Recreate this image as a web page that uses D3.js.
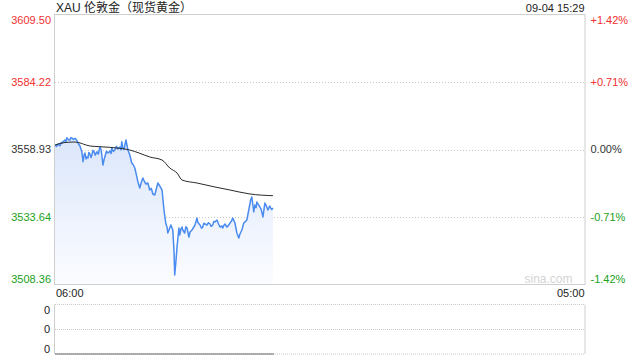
<!DOCTYPE html>
<html><head><meta charset="utf-8">
<script src="https://cdn.jsdelivr.net/npm/d3@7"></script>
<style>
html,body{margin:0;padding:0;background:#fff;}
svg{display:block;font-family:"Liberation Sans",Arial,"Noto Sans CJK SC",sans-serif;}
</style></head>
<body><svg id="c" width="640" height="360"></svg>
<script>
// ---- data ----
const title = "XAU 伦敦金（现货黄金）";
const stamp = "09-04 15:29";
const prevClose = 3558.93;
const priceTicks = [3609.50, 3584.22, 3558.93, 3533.64, 3508.36];
const pctTicks = ["+1.42%", "+0.71%", "0.00%", "-0.71%", "-1.42%"];
const timeTicks = ["06:00", "05:00"];
const volTicks = ["0", "0", "0"];
// minutes since 06:00
const priceMinutes = [0,4,8,10,13,16,18,22,26,28,31,35,39,41,44,48,52,56,60,65,70,73,76,78,81,83,86,88,91,94,96,99,102,105,109,113,117,120,122,125,128,130,134,138,143,146,148,152,156,160,164,169,172,174,177,180,182,185,188,190,195,200,204,208,212,216,221,225,229,233,237,242,247,251,255,260,264,268,273,279,284,289,292,294,299,302,307,310,312,315,318,323,325,328,331,333,338,341,344,349,352,357,361,365,370,372,375,378,382,385,388,391,396,400,404,407,411,414,417,422,426,430,435,437,440,443,448,452,456,460,463,466,469,474,479,482,487,492,496,500,505,510,513,516,518,521,524,526,530,534,537,539,542,545,547,550,552,555,558,560,562,565,568];
const prices = [3560.62,3560.10,3561.00,3560.70,3560.36,3561.60,3561.37,3562.00,3562.50,3561.90,3563.37,3562.60,3562.50,3563.40,3563.25,3562.70,3563.14,3562.60,3561.37,3560.25,3558.10,3554.34,3556.90,3557.61,3555.40,3556.11,3555.73,3557.80,3557.24,3555.90,3556.86,3558.60,3557.99,3556.80,3558.10,3557.20,3559.98,3558.90,3556.86,3553.10,3555.20,3556.22,3558.30,3557.61,3558.37,3557.40,3559.49,3558.20,3558.74,3560.10,3559.12,3559.87,3558.80,3561.86,3559.49,3558.90,3560.62,3562.50,3560.30,3558.74,3556.86,3553.85,3553.20,3551.97,3549.50,3546.82,3544.45,3546.60,3548.21,3546.90,3545.96,3546.33,3543.70,3544.30,3542.20,3541.82,3544.10,3546.33,3545.21,3543.70,3536.18,3530.92,3529.79,3527.53,3529.41,3530.54,3528.66,3521.14,3511.74,3516.63,3522.27,3529.41,3526.78,3528.90,3529.79,3528.66,3527.53,3529.90,3529.41,3526.03,3527.91,3528.66,3529.60,3530.54,3533.17,3531.67,3531.00,3530.54,3529.30,3529.79,3531.20,3530.92,3530.54,3531.40,3530.92,3530.00,3530.54,3531.90,3531.67,3532.42,3531.00,3529.79,3530.17,3529.41,3530.40,3530.92,3529.79,3530.30,3531.29,3532.00,3533.17,3532.30,3531.29,3527.53,3525.65,3527.16,3528.66,3531.29,3531.80,3532.42,3536.18,3539.94,3541.07,3537.80,3535.43,3538.06,3537.00,3539.19,3538.20,3537.31,3536.50,3535.43,3533.55,3536.80,3538.81,3537.90,3537.31,3536.18,3537.20,3537.69,3536.93,3536.40,3536.93];
const avgMinutes = [0,26,52,91,117,169,195,221,247,279,299,318,331,370,417,456,508,568];
const avgPrices = [3560.62,3561.56,3561.75,3560.25,3559.98,3559.38,3558.74,3557.50,3556.11,3554.98,3551.97,3550.09,3547.46,3546.33,3544.83,3543.70,3542.20,3541.56];
const sessionMinutes = 1380;

// ---- layout ----
const svg = d3.select("#c");
const L = 55, R = 584.5, T = 15, B = 284;
const VT = 304.5, VB = 354;
const x = d3.scaleLinear().domain([0, sessionMinutes]).range([L, R]);
const y = d3.scaleLinear().domain([priceTicks[4], priceTicks[0]]).range([B, T]);
const vy = d3.scaleLinear().domain([0, 2]).range([VB, VT]);

const red = "#f23030", green = "#1ba11b", dark = "#333";
const colorFor = i => i < 2 ? red : (i === 2 ? dark : green);

// gradient
const defs = svg.append("defs");
const g = defs.append("linearGradient").attr("id","fill")
  .attr("gradientUnits","userSpaceOnUse").attr("x1",0).attr("x2",0).attr("y1",y(priceTicks[2])-10).attr("y2",B);
g.append("stop").attr("offset",0).attr("stop-color","#dce7fb");
g.append("stop").attr("offset",1).attr("stop-color","#fbfcff");

// title
svg.append("text").attr("x",L+1).attr("y",12).attr("font-size",12).attr("fill","#222").text(title);
svg.append("text").attr("x",R).attr("y",12).attr("text-anchor","end").attr("font-size",11).attr("fill","#222").text(stamp);

// grid lines (inner)
[1,2,3].forEach(i=>{
  svg.append("line").attr("x1",L).attr("x2",R).attr("y1",Math.round(y(priceTicks[i]))+0.5).attr("y2",Math.round(y(priceTicks[i]))+0.5)
    .attr("stroke","#c8c8c8").attr("stroke-dasharray","1,2");
});

const pts = priceMinutes.map((m,i)=>[m,prices[i]]);
// area
svg.append("path").datum(pts)
  .attr("d", d3.area().x(d=>x(d[0])).y0(B).y1(d=>y(d[1])))
  .attr("fill","url(#fill)");
// price line
svg.append("path").datum(pts)
  .attr("d", d3.line().x(d=>x(d[0])).y(d=>y(d[1])))
  .attr("fill","none").attr("stroke","#4a8bef").attr("stroke-width",1.5).attr("stroke-linejoin","round");
// avg line
const apts = avgMinutes.map((m,i)=>[m,avgPrices[i]]);
svg.append("path").datum(apts)
  .attr("d", d3.line().curve(d3.curveMonotoneX).x(d=>x(d[0])).y(d=>y(d[1])))
  .attr("fill","none").attr("stroke","#2b2b2b").attr("stroke-width",1);

// main frame
svg.append("rect").attr("x",L-0.5).attr("y",T-0.5).attr("width",R-L+1).attr("height",B-T+1)
  .attr("fill","none").attr("stroke","#cfcfcf");

// axis labels
const labelY = i => i===0 ? y(priceTicks[0])+5 : (i===4 ? y(priceTicks[4])-5 : y(priceTicks[i]));
priceTicks.forEach((v,i)=>{
  svg.append("text").attr("x",L-4).attr("y",labelY(i)).attr("dy","0.35em").attr("text-anchor","end")
    .attr("font-size",11).attr("fill",colorFor(i)).text(v.toFixed(2));
  svg.append("text").attr("x",R+6).attr("y",labelY(i)).attr("dy","0.35em")
    .attr("font-size",11).attr("fill",colorFor(i)).text(pctTicks[i]);
});

// watermark
svg.append("text").attr("x",R-12).attr("y",labelY(4)).attr("dy","0.35em").attr("text-anchor","end")
  .attr("font-size",12).attr("fill","#d4d4d4").text("sina.com");

// time ticks
svg.append("text").attr("x",L+1).attr("y",293).attr("dy","0.35em").attr("font-size",11).attr("fill","#222").text(timeTicks[0]);
svg.append("text").attr("x",R).attr("y",293).attr("dy","0.35em").attr("text-anchor","end").attr("font-size",11).attr("fill","#222").text(timeTicks[1]);

// volume panel
svg.append("line").attr("x1",L).attr("x2",R).attr("y1",VT).attr("y2",VT).attr("stroke","#c8c8c8").attr("stroke-dasharray","1,1");
svg.append("line").attr("x1",L).attr("x2",R).attr("y1",Math.round(vy(1))+0.5).attr("y2",Math.round(vy(1))+0.5).attr("stroke","#c8c8c8").attr("stroke-dasharray","1,1");
svg.append("line").attr("x1",L).attr("x2",R).attr("y1",VB).attr("y2",VB).attr("stroke","#c8c8c8").attr("stroke-dasharray","1,1");
svg.append("line").attr("x1",L-0.5).attr("x2",L-0.5).attr("y1",VT).attr("y2",VB).attr("stroke","#cfcfcf");
svg.append("line").attr("x1",R+0.5).attr("x2",R+0.5).attr("y1",VT).attr("y2",VB).attr("stroke","#cfcfcf");
svg.append("line").attr("x1",L).attr("x2",x(priceMinutes[priceMinutes.length-1])+1).attr("y1",VB).attr("y2",VB).attr("stroke","#666");
[0,1,2].forEach(i=>{
  const yy = i===0 ? vy(2)+5.5 : (i===2 ? vy(0)-5 : vy(1));
  svg.append("text").attr("x",L-5).attr("y",yy).attr("dy","0.35em").attr("text-anchor","end")
    .attr("font-size",11).attr("fill","#222").text(volTicks[i]);
});
</script></body></html>
